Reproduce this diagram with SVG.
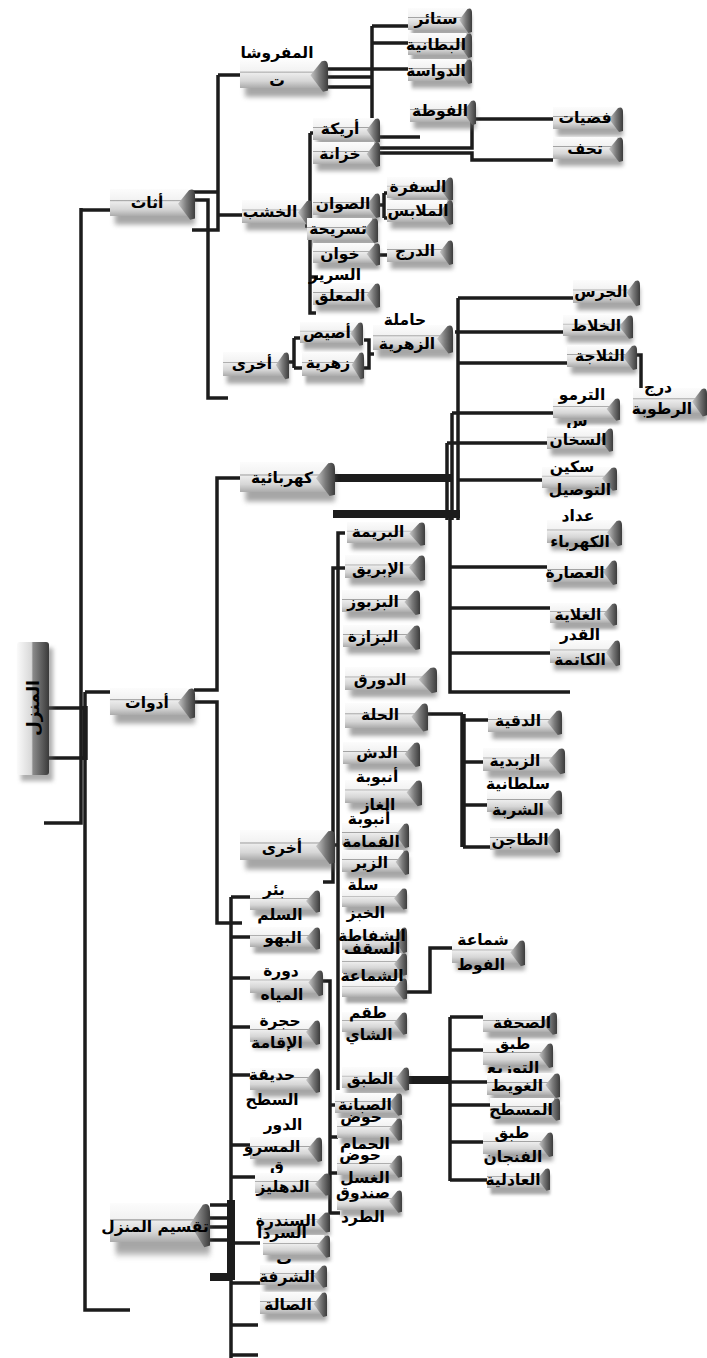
<svg xmlns="http://www.w3.org/2000/svg" width="707" height="1358" viewBox="0 0 707 1358">
<defs>
<linearGradient id="gb" x1="0" y1="0" x2="0" y2="1">
<stop offset="0" stop-color="#fcfcfc"/><stop offset="0.40" stop-color="#f2f2f2"/><stop offset="0.43" stop-color="#a0a0a0"/><stop offset="0.47" stop-color="#ececec"/><stop offset="0.75" stop-color="#d6d6d6"/><stop offset="1" stop-color="#ababab"/>
</linearGradient>
<linearGradient id="gc" x1="0" y1="0" x2="1" y2="0">
<stop offset="0" stop-color="#c8c8c8"/><stop offset="0.5" stop-color="#7a7a7a"/><stop offset="1" stop-color="#3c3c3c"/>
</linearGradient>
<linearGradient id="gv" x1="0" y1="0" x2="1" y2="0">
<stop offset="0" stop-color="#fafafa"/><stop offset="0.45" stop-color="#d8d8d8"/><stop offset="0.5" stop-color="#8a8a8a"/><stop offset="1" stop-color="#3a3a3a"/>
</linearGradient>
<filter id="blur" x="-30%" y="-60%" width="160%" height="220%"><feGaussianBlur stdDeviation="2"/></filter>
<symbol id="box" viewBox="0 0 70 22" preserveAspectRatio="none" overflow="visible">
<rect x="4" y="7" width="66" height="22" fill="#5f5f5f" opacity="0.55" filter="url(#blur)"/>
<rect x="0" y="0" width="64" height="22" fill="url(#gb)"/>
<path d="M56 12 L65 1 Q70 -1 70 5 V24 L66 25 Z" fill="url(#gc)"/>
</symbol>
</defs>
<style>
.t{font-family:'DejaVu Sans','Noto Sans',sans-serif;font-weight:bold;font-size:15.5px;fill:#000;text-anchor:middle}
#connectors path{fill:none;stroke:#1c1c1c;stroke-width:3.5}
#connectors .k{stroke-width:8}
#connectors .m{stroke-width:5.5}
</style>
<rect width="707" height="1358" fill="#ffffff"/>

<g id="connectors">
<path d="M81 210 H110 M81 208 V823 H44"/>
<path d="M46 708 H86 M46 758 H86"/>
<path class="m" d="M85 706 V760"/>
<path d="M85 692 H110 M85 692 V1310 H130"/>
<path d="M193 192 H218 M218 75 V230 H192 M218 75 H240 M218 215 H242 M193 200 H208 V398 H228"/>
<path d="M326 69 H408 M326 77 H372 M326 87 H372 M372 26 V137 H420 M372 26 H408 M372 43 H408"/>
<path d="M379 148 H472 V122 M379 153 H472 V160 H553 M476 119 H553"/>
<path d="M310 133 V313 H316 M310 133 H314 M305 226 H312 M310 277 H318"/>
<path d="M380 205 H384 M384 193 V218 M384 193 H388 M384 218 H388 M380 255 H388"/>
<path d="M289 362 H294 M294 338 V368 M294 338 H302 M294 368 H302"/>
<path d="M364 340 H369 V368 H364 M369 354 H374"/>
<path d="M458 298 V520 M458 298 H573 M455 332 H563 M458 363 H567 M452 413 V520 M452 413 H553 M447 443 V520 M447 443 H547 M458 480 H542"/>
<path d="M637 355 H641 V390"/>
<path class="k" d="M333 478 H452 M333 514 H460"/>
<path d="M450 514 V692 H570 M450 567 H547 M450 608 H550 M450 653 H550"/>
<path d="M240 478 H217 V690 H194 M195 702 H217 V923 H242"/>
<path d="M345 533 H338 V1090 M345 568 H333 V882 H323 M333 845 H338"/>
<path d="M428 714 H463 M463 720 H488 M463 762 H483 M463 805 H487 M463 847 H490"/>
<path class="m" d="M463 714 V847"/>
<path d="M407 992 H430 V948 H452"/>
<path class="k" d="M408 1080 H450"/>
<path d="M450 1017 V1181 M450 1017 H487 M450 1050 H483 M450 1082 H487 M450 1105 H490 M450 1142 H483 M450 1180 H487"/>
<path d="M323 981 H330 V1213 H340 M330 1105 H337 M330 1137 H338 M330 1173 H338"/>
<path d="M231 897 V1358 M231 897 H250 M231 937 H250 M231 978 H250 M231 1027 H250 M231 1075 H250 M231 1145 H250 M231 1177 H255 M231 1243 H260 M231 1283 H263 M231 1325 H258 M231 1355 H258"/>
<path class="k" d="M231 1200 V1280 M210 1277 H232"/>
<path d="M210 1205 H232 M210 1218 H232 M210 1227 H232 M210 1240 H232"/>
</g>

<g id="n-manzil">
<rect x="21" y="648" width="32" height="133" fill="#5f5f5f" opacity="0.5" filter="url(#blur)"/>
<rect x="17" y="642" width="32" height="133" rx="3" fill="url(#gv)"/>
<text class="t" transform="translate(39,708) rotate(-90)" style="font-size:17px">المنزل</text>
</g>
<g id="n-athath"><use href="#box" x="110" y="189" width="85" height="27"/><text class="t" x="147" y="208">أثاث</text></g>
<g id="n-adawat"><use href="#box" x="110" y="688" width="85" height="27"/><text class="t" x="147" y="708">أدوات</text></g>
<g id="n-taqsim"><use href="#box" x="110" y="1203" width="100" height="39"/><text class="t" x="155" y="1232">تقسيم المنزل</text></g>

<g id="n-mafrushat"><use href="#box" x="240" y="60" width="88" height="28"/><text class="t" x="277" y="58">المفروشا</text><text class="t" x="277" y="86">ت</text></g>
<g id="n-satair"><use href="#box" x="408" y="8" width="64" height="22"/><text class="t" x="436" y="24">ستائر</text></g>
<g id="n-bitaniya"><use href="#box" x="408" y="33" width="64" height="22"/><text class="t" x="436" y="50">البطانية</text></g>
<g id="n-dawasa"><use href="#box" x="408" y="59" width="64" height="22"/><text class="t" x="436" y="76">الدواسة</text></g>
<g id="n-futa"><use href="#box" x="410" y="100" width="66" height="22"/><text class="t" x="440" y="116">الفوطة</text></g>
<g id="n-arika"><use href="#box" x="313" y="118" width="67" height="22"/><text class="t" x="340" y="134">أريكة</text></g>
<g id="n-khizana"><use href="#box" x="313" y="142" width="67" height="22"/><text class="t" x="340" y="159">خزانة</text></g>
<g id="n-fiddiyat"><use href="#box" x="553" y="107" width="70" height="22"/><text class="t" x="585" y="123">فضيات</text></g>
<g id="n-tuhaf"><use href="#box" x="553" y="137" width="70" height="22"/><text class="t" x="585" y="154">تحف</text></g>
<g id="n-khashab"><use href="#box" x="242" y="200" width="70" height="23"/><text class="t" x="270" y="217">الخشب</text></g>
<g id="n-suwan"><use href="#box" x="313" y="193" width="67" height="22"/><text class="t" x="343" y="209">الصوان</text></g>
<g id="n-sufra"><use href="#box" x="387" y="177" width="66" height="21"/><text class="t" x="418" y="192">السفرة</text></g>
<g id="n-malabis"><use href="#box" x="387" y="200" width="66" height="22"/><text class="t" x="418" y="216">الملابس</text></g>
<g id="n-tasriha"><use href="#box" x="307" y="218" width="71" height="22"/><text class="t" x="338" y="234">تسريحة</text></g>
<g id="n-khiwan"><use href="#box" x="313" y="243" width="67" height="20"/><text class="t" x="340" y="259">خوان</text></g>
<g id="n-durj"><use href="#box" x="387" y="240" width="66" height="22"/><text class="t" x="415" y="256">الدرج</text></g>
<g id="n-muallaq"><use href="#box" x="313" y="283" width="67" height="22"/><text class="t" x="340" y="301">المعلق</text></g>
<g id="n-sarir"><text class="t" x="335" y="280">السرير</text></g>
<g id="n-ukhra1"><use href="#box" x="223" y="352" width="66" height="24"/><text class="t" x="252" y="369">أخرى</text></g>
<g id="n-asis"><use href="#box" x="300" y="322" width="63" height="21"/><text class="t" x="327" y="338">أصيص</text></g>
<g id="n-zahriya"><use href="#box" x="302" y="352" width="62" height="24"/><text class="t" x="328" y="368">زهرية</text></g>
<g id="n-hamila"><use href="#box" x="373" y="325" width="80" height="25"/><text class="t" x="405" y="325">حاملة</text><text class="t" x="407" y="349">الزهرية</text></g>

<g id="n-kahraba"><use href="#box" x="240" y="462" width="95" height="30"/><text class="t" x="282" y="483">كهربائية</text></g>
<g id="n-jaras"><use href="#box" x="573" y="280" width="67" height="23"/><text class="t" x="601" y="297">الجرس</text></g>
<g id="n-khallat"><use href="#box" x="563" y="315" width="70" height="21"/><text class="t" x="596" y="331">الخلاط</text></g>
<g id="n-thallaja"><use href="#box" x="567" y="345" width="70" height="22"/><text class="t" x="600" y="361">الثلاجة</text></g>
<g id="n-rutuba"><use href="#box" x="633" y="388" width="74" height="25"/><text class="t" x="658" y="392">درج</text><text class="t" x="662" y="414">الرطوبة</text></g>
<g id="n-thermos"><use href="#box" x="553" y="398" width="67" height="20"/><text class="t" x="582" y="400">الترمو</text><text class="t" x="577" y="426">س</text></g>
<g id="n-sakhan"><use href="#box" x="547" y="428" width="66" height="21"/><text class="t" x="578" y="445">السخان</text></g>
<g id="n-sikkin"><use href="#box" x="542" y="467" width="75" height="21"/><text class="t" x="572" y="472">سكين</text><text class="t" x="580" y="495">التوصيل</text></g>
<g id="n-addad"><use href="#box" x="547" y="520" width="75" height="23"/><text class="t" x="578" y="521">عداد</text><text class="t" x="580" y="547">الكهرباء</text></g>
<g id="n-asara"><use href="#box" x="547" y="560" width="70" height="22"/><text class="t" x="575" y="578">العصارة</text></g>
<g id="n-ghallaya"><use href="#box" x="550" y="603" width="67" height="20"/><text class="t" x="578" y="620">الغلاية</text></g>
<g id="n-qidr"><use href="#box" x="550" y="640" width="70" height="23"/><text class="t" x="580" y="640">القدر</text><text class="t" x="580" y="665">الكاتمة</text></g>

<g id="n-ukhra2"><use href="#box" x="240" y="830" width="95" height="30"/><text class="t" x="282" y="853">أخرى</text></g>
<g id="n-barima"><use href="#box" x="347" y="522" width="78" height="21"/><text class="t" x="378" y="537">البريمة</text></g>
<g id="n-ibriq"><use href="#box" x="345" y="555" width="80" height="23"/><text class="t" x="378" y="574">الإبريق</text></g>
<g id="n-bazbuz"><use href="#box" x="342" y="590" width="78" height="22"/><text class="t" x="373" y="607">البزبوز</text></g>
<g id="n-bazaza"><use href="#box" x="343" y="625" width="77" height="22"/><text class="t" x="373" y="642">البزازة</text></g>
<g id="n-dawraq"><use href="#box" x="345" y="667" width="92" height="23"/><text class="t" x="380" y="685">الدورق</text></g>
<g id="n-halla"><use href="#box" x="345" y="703" width="83" height="25"/><text class="t" x="380" y="720">الحلة</text></g>
<g id="n-daqiya"><use href="#box" x="488" y="710" width="74" height="22"/><text class="t" x="518" y="726">الدقية</text></g>
<g id="n-zubdiya"><use href="#box" x="483" y="748" width="82" height="23"/><text class="t" x="515" y="766">الزبدية</text></g>
<g id="n-sultaniya"><use href="#box" x="487" y="790" width="75" height="22"/><text class="t" x="518" y="789">سلطانية</text><text class="t" x="518" y="815">الشربة</text></g>
<g id="n-tajin"><use href="#box" x="490" y="828" width="70" height="22"/><text class="t" x="520" y="845">الطاجن</text></g>
<g id="n-dush"><use href="#box" x="343" y="742" width="77" height="22"/><text class="t" x="377" y="758">الدش</text></g>
<g id="n-gas"><use href="#box" x="345" y="780" width="77" height="23"/><text class="t" x="377" y="782">أنبوبة</text><text class="t" x="378" y="810">الغاز</text></g>
<g id="n-qumama"><use href="#box" x="342" y="823" width="67" height="22"/><text class="t" x="369" y="824">أنبوبة</text><text class="t" x="371" y="847">القمامة</text></g>
<g id="n-zir"><use href="#box" x="342" y="850" width="67" height="22"/><text class="t" x="370" y="868">الزير</text></g>
<g id="n-salla"><use href="#box" x="342" y="888" width="65" height="19"/><text class="t" x="363" y="890">سلة</text><text class="t" x="366" y="918">الخبز</text></g>
<g id="n-shaffata"><use href="#box" x="342" y="927" width="65" height="23"/><use href="#box" x="342" y="953" width="65" height="20"/><text class="t" x="372" y="941">الشفاطة</text><text class="t" x="372" y="954">السقف</text></g>
<g id="n-shammaa"><use href="#box" x="342" y="978" width="65" height="19"/><text class="t" x="372" y="981">الشماعة</text></g>
<g id="n-taqm"><use href="#box" x="342" y="1012" width="65" height="20"/><text class="t" x="368" y="1018">طقم</text><text class="t" x="369" y="1040">الشاي</text></g>
<g id="n-futa2"><use href="#box" x="452" y="940" width="73" height="23"/><text class="t" x="483" y="945">شماعة</text><text class="t" x="481" y="970">الفوط</text></g>
<g id="n-tabaq"><use href="#box" x="342" y="1067" width="67" height="21"/><text class="t" x="370" y="1084">الطبق</text></g>
<g id="n-sahfa"><use href="#box" x="483" y="1012" width="74" height="20"/><text class="t" x="522" y="1028">الصحفة</text></g>
<g id="n-tawzi"><use href="#box" x="483" y="1043" width="70" height="22"/><text class="t" x="513" y="1049">طبق</text><text class="t" x="513" y="1073">التوزيع</text></g>
<g id="n-ghawit"><use href="#box" x="487" y="1073" width="73" height="22"/><text class="t" x="517" y="1091">الغويط</text></g>
<g id="n-musattah"><use href="#box" x="490" y="1098" width="70" height="20"/><text class="t" x="521" y="1115">المسطح</text></g>
<g id="n-finjan"><use href="#box" x="483" y="1132" width="70" height="22"/><text class="t" x="512" y="1138">طبق</text><text class="t" x="513" y="1162">الفنجان</text></g>
<g id="n-adliya"><use href="#box" x="487" y="1168" width="63" height="20"/><text class="t" x="513" y="1185">العادلية</text></g>
<g id="n-sabbana"><use href="#box" x="335" y="1093" width="67" height="20"/><text class="t" x="365" y="1110">الصبانة</text></g>
<g id="n-hammam"><use href="#box" x="337" y="1118" width="65" height="20"/><text class="t" x="361" y="1122">حوض</text><text class="t" x="365" y="1149">الحمام</text></g>
<g id="n-ghasl"><use href="#box" x="337" y="1155" width="65" height="20"/><text class="t" x="360" y="1160">حوض</text><text class="t" x="365" y="1183">الغسل</text></g>
<g id="n-sunduq"><use href="#box" x="337" y="1190" width="65" height="20"/><text class="t" x="363" y="1198">صندوق</text><text class="t" x="363" y="1222">الطرد</text></g>

<g id="n-bir"><use href="#box" x="250" y="890" width="70" height="20"/><text class="t" x="274" y="895">بئر</text><text class="t" x="280" y="920">السلم</text></g>
<g id="n-bahw"><use href="#box" x="250" y="927" width="70" height="20"/><text class="t" x="283" y="943">البهو</text></g>
<g id="n-dawra"><use href="#box" x="250" y="970" width="73" height="23"/><text class="t" x="281" y="976">دورة</text><text class="t" x="282" y="1000">المياه</text></g>
<g id="n-hujra"><use href="#box" x="250" y="1020" width="70" height="22"/><text class="t" x="280" y="1026">حجرة</text><text class="t" x="277" y="1048">الإقامة</text></g>
<g id="n-hadiqa"><use href="#box" x="250" y="1068" width="70" height="22"/><text class="t" x="272" y="1080">حديقة</text><text class="t" x="272" y="1105">السطح</text></g>
<g id="n-dawr"><use href="#box" x="250" y="1137" width="72" height="22"/><text class="t" x="283" y="1130">الدور</text><text class="t" x="272" y="1152">المسرو</text><text class="t" x="277" y="1172">ق</text></g>
<g id="n-dahliz"><use href="#box" x="255" y="1173" width="75" height="20"/><text class="t" x="283" y="1192">الدهليز</text></g>
<g id="n-sandara"><use href="#box" x="260" y="1212" width="70" height="18"/><text class="t" x="286" y="1226">السندرة</text></g>
<g id="n-sirdab"><use href="#box" x="263" y="1235" width="67" height="20"/><text class="t" x="282" y="1238">السردا</text><text class="t" x="284" y="1264">ب</text></g>
<g id="n-shurfa"><use href="#box" x="260" y="1265" width="67" height="20"/><text class="t" x="287" y="1282">الشرفة</text></g>
<g id="n-sala"><use href="#box" x="260" y="1292" width="67" height="22"/><text class="t" x="288" y="1310">الصالة</text></g>
</svg>
